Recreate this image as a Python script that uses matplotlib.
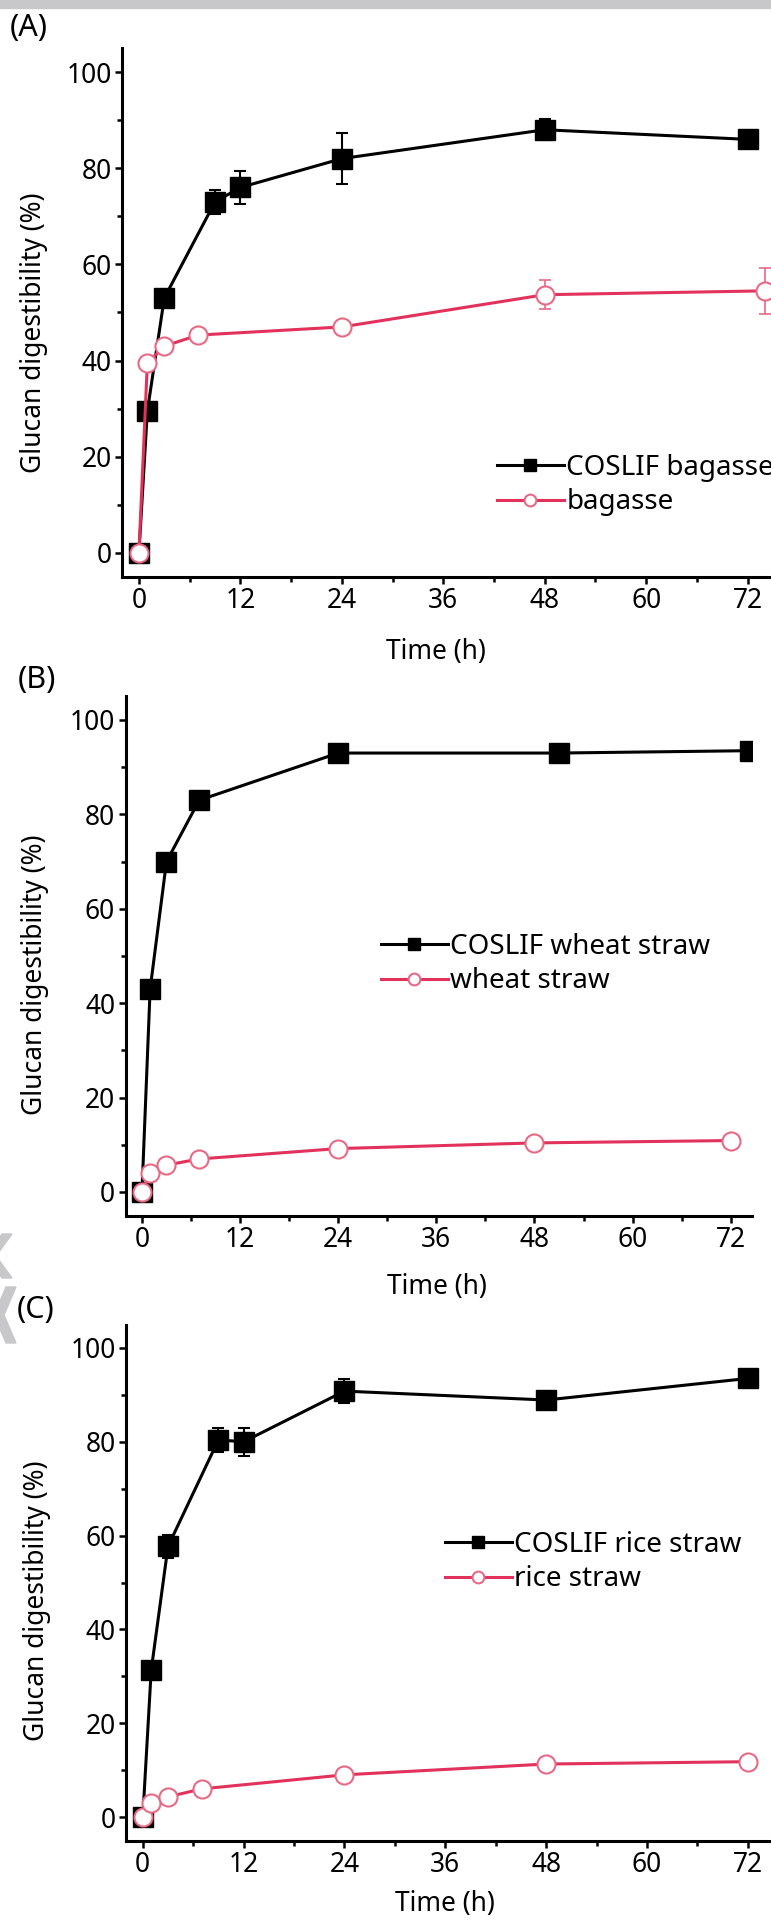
import matplotlib.pyplot as plt
from matplotlib.ticker import MultipleLocator
from matplotlib.patches import Polygon, Rectangle

plt.rcParams['font.family'] = ['Noto Sans', 'Open Sans', 'DejaVu Sans']
plt.rcParams['font.weight'] = 'medium'

# (A) bagasse
time_a_coslif = [0, 1, 3, 9, 12, 24, 48, 72]
dig_a_coslif = [0, 29.5, 53, 73, 76, 82, 88, 86]
err_a_coslif = [0, 1, 1, 2.5, 3.5, 5.3, 2.2, 1]
time_a_raw = [0, 1, 3, 7, 24, 48, 74]
dig_a_raw = [0, 39.5, 43, 45.3, 47, 53.7, 54.5]
err_a_raw = [0, 1, 1, 1, 1, 3, 4.8]

# (B) wheat straw
time_b_coslif = [0, 1, 3, 7, 24, 51, 74.3]
dig_b_coslif = [0, 43, 70, 83, 93, 93, 93.5]
err_b_coslif = [0, 1, 1, 1, 1, 1, 1]
time_b_raw = [0, 1, 3, 7, 24, 48, 72]
dig_b_raw = [0, 4, 5.7, 7, 9.2, 10.4, 10.9]
err_b_raw = [0, 0.5, 0.5, 0.5, 0.5, 0.5, 0.5]

# (C) rice straw
time_c_coslif = [0, 1, 3, 9, 12, 24, 48, 72]
dig_c_coslif = [0, 31.3, 57.7, 80.4, 80, 90.8, 88.9, 93.5]
err_c_coslif = [0, 1.5, 2.5, 2.5, 3, 2.5, 1.2, 1]
time_c_raw = [0, 1, 3, 7, 24, 48, 72]
dig_c_raw = [0, 3, 4.3, 6, 9, 11.3, 11.8]
err_c_raw = [0, 0.8, 0.8, 1, 1, 1, 1]

x_ticks = [0, 12, 24, 36, 48, 60, 72]
y_ticks = [0, 20, 40, 60, 80, 100]

W, H = 771, 1929
RED = '#e2325c'
RED_EDGE = '#e66a86'

fig = plt.figure(figsize=(W / 100, H / 100), dpi=100)


def fx(x):
    return x / W


def fy(y):
    return 1 - y / H


def draw_panel(letter, rect, xmax, t1, y1, e1, lab1, t2, y2, e2, lab2,
               leg_xy, ylab_xy, xlab_xy, letter_xy):
    l, t, r, b = rect
    ax = fig.add_axes([fx(l), fy(b), (r - l) / W, (b - t) / H])
    ax.errorbar(t1, y1, yerr=e1, fmt='none', ecolor='black', elinewidth=1.5,
                capsize=4, capthick=1.5, zorder=2)
    ax.errorbar(t2, y2, yerr=e2, fmt='none', ecolor=RED_EDGE, elinewidth=1.2,
                capsize=4, capthick=1.2, zorder=2)
    ax.plot(t1, y1, '-s', color='black', lw=2.2, ms=14, label=lab1, zorder=3)
    ax.plot(t2, y2, '-o', color=RED, lw=2.2, ms=13, mfc='white',
            mec=RED_EDGE, mew=1.5, label=lab2, zorder=4)

    ax.set_xlim(-2, xmax)
    ax.set_ylim(-5, 105)
    ax.set_xticks(x_ticks)
    ax.set_yticks(y_ticks)
    ax.xaxis.set_minor_locator(MultipleLocator(6))
    ax.yaxis.set_minor_locator(MultipleLocator(10))
    for side in ['top', 'right']:
        ax.spines[side].set_visible(False)
    for side in ['left', 'bottom']:
        ax.spines[side].set_linewidth(2.2)
    ax.tick_params(which='major', direction='out', length=5, width=1.8,
                   labelsize=19, pad=2.5)
    ax.tick_params(which='minor', direction='out', length=3.5, width=1.8)

    ax.set_xlabel('Time (h)', fontsize=19)
    ax.set_ylabel('Glucan digestibility (%)', fontsize=19)
    ax.xaxis.label.set_va('center')
    ax.yaxis.label.set_va('center')
    ax.xaxis.set_label_coords(fx(xlab_xy[0]), fy(xlab_xy[1]), transform=fig.transFigure)
    ax.yaxis.set_label_coords(fx(ylab_xy[0]), fy(ylab_xy[1]), transform=fig.transFigure)

    ax.legend(loc='center left', bbox_to_anchor=(fx(leg_xy[0]), fy(leg_xy[1])),
              bbox_transform=fig.transFigure, frameon=False, fontsize=20,
              borderpad=0, borderaxespad=0, handlelength=2.4, markerscale=0.65,
              handletextpad=0.1, labelspacing=0.25)

    fig.text(fx(letter_xy[0]), fy(letter_xy[1]), letter, fontsize=22,
             ha='left', va='center')
    return ax


draw_panel('(A)', (122, 48, 773, 577), 75,
           time_a_coslif, dig_a_coslif, err_a_coslif, 'COSLIF bagasse',
           time_a_raw, dig_a_raw, err_a_raw, 'bagasse',
           (497, 485), (34, 333), (436, 652), (10, 28))
draw_panel('(B)', (125.6, 696.4, 752, 1215.6), 74.6,
           time_b_coslif, dig_b_coslif, err_b_coslif, 'COSLIF wheat straw',
           time_b_raw, dig_b_raw, err_b_raw, 'wheat straw',
           (381, 964), (35, 975), (437, 1287), (18, 680))
draw_panel('(C)', (126, 1324.5, 773, 1840.5), 75,
           time_c_coslif, dig_c_coslif, err_c_coslif, 'COSLIF rice straw',
           time_c_raw, dig_c_raw, err_c_raw, 'rice straw',
           (445, 1562), (37, 1601), (445, 1904), (17, 1310))

# grey strip along the top and the chevrons on the left edge
fig.patches.append(Rectangle((0, fy(8)), 1, 8 / H, transform=fig.transFigure,
                             color='#c8c8ca', zorder=0))


def chevron(x0, yc, w, h, th):
    pts = [(x0, yc), (x0 + w, yc - h), (x0 + w + th, yc - h), (x0 + th, yc),
           (x0 + w + th, yc + h), (x0 + w, yc + h)]
    return Polygon([(fx(x), fy(y)) for x, y in pts], closed=True,
                   transform=fig.transFigure, color='#c8c8ca', zorder=0)


fig.patches.append(chevron(-14, 1256, 16, 22, 10))
fig.patches.append(chevron(-6, 1315, 12, 28, 10))

fig.savefig('out.png', dpi=100)
